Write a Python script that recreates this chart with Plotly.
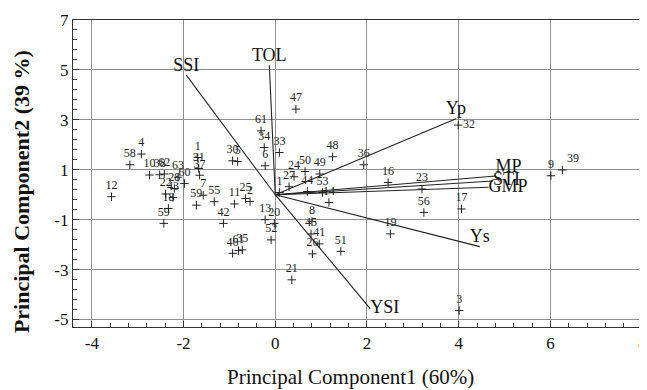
import plotly.graph_objects as go

# Genotype scores (PC1, PC2)
geno_labels = ["1", "4", "58", "10", "38", "62", "63", "31", "37", "12", "22", "28", "60", "43",
               "18", "59", "59", "7", "55", "30", "5", "25", "2", "11", "42", "13", "20", "52",
               "46", "61", "35", "8", "45", "41", "51", "26", "21", "6", "24", "50", "49", "36",
               "27", "1", "44", "53", "14", "47", "61", "34", "33", "48", "16", "32", "23", "56",
               "17", "19", "9", "39", "3"]
geno_pc1 = [-1.69, -2.92, -3.17, -2.74, -2.52, -2.42, -2.12, -1.67, -1.65, -3.57, -2.39, -2.20, -1.98, -2.23,
            -2.33, -2.43, -1.72, -1.57, -1.33, -0.93, -0.82, -0.65, -0.55, -0.89, -1.13, -0.22, -0.02, -0.09,
            -0.93, -0.80, -0.72, 0.80, 0.78, 0.96, 1.43, 0.81, 0.36, -0.22, 0.41, 0.65, 0.97, 1.93,
            0.30, 0.09, 0.70, 1.03, 1.17, 0.45, -0.31, -0.24, 0.09, 1.25, 2.46, 3.99, 3.20, 3.24,
            4.06, 2.51, 6.01, 6.26, 4.01]
geno_pc2 = [1.49, 1.63, 1.20, 0.79, 0.80, 0.83, 0.70, 1.05, 0.78, -0.08, 0.03, 0.25, 0.45, -0.11,
            -0.55, -1.15, -0.42, -0.02, -0.28, 1.36, 1.33, -0.15, -0.27, -0.37, -1.15, -1.00, -1.15, -1.81,
            -2.35, -2.24, -2.21, -1.07, -1.57, -1.97, -2.27, -2.37, -3.41, 1.16, 0.72, 0.93, 0.83, 1.20,
            0.32, 0.09, 0.13, 0.09, -0.31, 3.43, 2.56, 1.89, 1.69, 1.52, 0.49, 2.79, 0.23, -0.71,
            -0.57, -1.57, 0.76, 0.99, -4.64]

# Trait vectors (end points)
traits = ["SSI", "TOL", "Yp", "MP", "STI", "GMP", "Ys", "YSI"]
trait_pc1 = [-1.94, -0.13, 3.94, 4.80, 4.75, 4.65, 4.46, 2.07]
trait_pc2 = [4.79, 5.19, 3.04, 0.75, 0.55, 0.30, -2.08, -4.56]
origin = [0.0, 0.0]

x_ticks = [-4, -2, 0, 2, 4, 6, 8]
y_ticks = [-5, -3, -1, 1, 3, 5, 7]

SERIF = "Liberation Serif"
fig = go.Figure()

# vectors
for t, vx, vy in zip(traits, trait_pc1, trait_pc2):
    fig.add_trace(go.Scatter(x=[origin[0], vx], y=[origin[1], vy], mode="lines",
                             line=dict(color="#222222", width=1.1), showlegend=False,
                             hoverinfo="skip"))

vec_pos = {"SSI": "top center", "TOL": "top center", "Yp": "top center", "MP": "top right",
           "STI": "middle right", "GMP": "middle right", "Ys": "top center", "YSI": "middle right"}
fig.add_trace(go.Scatter(x=trait_pc1, y=trait_pc2, mode="text", text=traits,
                         textposition=[vec_pos[t] for t in traits],
                         textfont=dict(family=SERIF, size=18, color="#111111"),
                         showlegend=False))

special = {53: "middle right", 59: "top right"}
pos = [special.get(i, "top center") for i in range(len(geno_labels))]
fig.add_trace(go.Scatter(x=geno_pc1, y=geno_pc2, mode="markers+text", text=geno_labels,
                         textposition=pos,
                         marker=dict(symbol="cross-thin", size=6, line=dict(color="#222222", width=1)),
                         textfont=dict(family=SERIF, size=12, color="#222222"),
                         showlegend=False))

axis_common = dict(showline=True, linecolor="#333333", linewidth=1.2, mirror=True,
                   showgrid=True, gridcolor="#8f8f8f", gridwidth=1, zeroline=False,
                   ticks="inside", ticklen=6, tickcolor="#333333", automargin=False,
                   ticklabeloverflow="allow",
                   tickfont=dict(family=SERIF, size=17, color="#111111"))

fig.update_xaxes(range=[-4.41, 8.04], tickmode="array", tickvals=x_ticks,
                 ticktext=[str(v) for v in x_ticks],
                 minor=dict(dtick=0.4, tick0=-4, ticks="inside", ticklen=4, tickcolor="#333333",
                            showgrid=False),
                 **axis_common)
fig.update_yaxes(range=[-5.3, 7], tickmode="array", tickvals=y_ticks,
                 ticktext=[str(v) for v in y_ticks],
                 minor=dict(dtick=0.4, tick0=-5, ticks="inside", ticklen=4, tickcolor="#333333",
                            showgrid=False),
                 **axis_common)

# page body has an 8px default margin, so the figure is sized/offset to compensate
fig.update_layout(
    width=639, height=382,
    margin=dict(l=65, r=3, t=12, b=63),
    paper_bgcolor="white", plot_bgcolor="white",
    annotations=[
        dict(text="Principal Component1 (60%)", xref="paper", yref="paper",
             x=0.486, y=-0.163, xanchor="center", yanchor="middle", showarrow=False,
             font=dict(family=SERIF, size=21, color="#111111")),
        dict(text="<b>Principal Component2 (39 %)</b>", xref="paper", yref="paper",
             x=-0.089, y=0.44, xanchor="center", yanchor="middle", textangle=-90,
             showarrow=False, font=dict(family=SERIF, size=22, color="#111111")),
    ],
)

fig.write_html("out.html")
